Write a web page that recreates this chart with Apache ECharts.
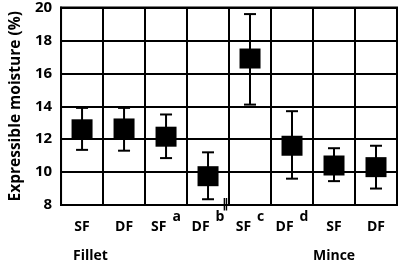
<!DOCTYPE html>
<html><head><meta charset="utf-8">
<script src="https://cdn.jsdelivr.net/npm/echarts@6/dist/echarts.min.js"></script>
<style>html,body{margin:0;padding:0;background:#fff}#c{width:400px;height:262px}</style>
</head><body><div id="c"></div>
<script>
var categories = ['SF', 'DF', 'SF', 'DF', 'SF', 'DF', 'SF', 'DF'];
var superscripts = ['', '', 'a', 'b', 'c', 'd', '', ''];
var means = [12.6, 12.65, 12.15, 9.75, 16.9, 11.6, 10.4, 10.3];
var upper = [13.9, 13.9, 13.5, 11.2, 19.6, 13.7, 11.45, 11.6];
var lower = [11.35, 11.3, 10.85, 8.35, 14.1, 9.6, 9.45, 9.0];
var yTicks = [8, 10, 12, 14, 16, 18, 20];
var groupLabels = ['Fillet', 'Mince'];

var FONT = '"Open Sans", "DejaVu Sans", sans-serif';
var chart = echarts.init(document.getElementById('c'), null, {renderer: 'canvas'});
var errData = means.map(function (m, i) { return [i, lower[i], upper[i]]; });

chart.setOption({
  animation: false,
  backgroundColor: '#fff',
  grid: {left: 53, right: 3, top: 7, bottom: 57, show: true, borderColor: '#000', borderWidth: 2},
  xAxis: {
    type: 'category', data: categories, boundaryGap: true,
    axisLine: {lineStyle: {color: '#000', width: 2}},
    axisTick: {show: false},
    splitLine: {show: true, lineStyle: {color: '#000', width: 2}},
    axisLabel: {
      interval: 0, margin: 5, color: '#000',
      formatter: function (v, i) {
        var s = superscripts[i];
        return s ? '{n|' + v + '}{gap|}{sup|' + s + '}' : '{n|' + v + '}';
      },
      rich: {
        n: {fontSize: 14, fontWeight: 'bold', fontFamily: FONT, color: '#000', lineHeight: 24, verticalAlign: 'bottom'},
        gap: {width: 6, lineHeight: 24},
        sup: {fontSize: 14, fontWeight: 'bold', fontFamily: FONT, color: '#000', lineHeight: 24, verticalAlign: 'top'}
      }
    }
  },
  yAxis: {
    type: 'value', min: yTicks[0], max: yTicks[yTicks.length - 1], interval: 2,
    name: 'Expressible moisture (%)', nameLocation: 'middle', nameGap: 34, nameRotate: 90,
    nameTextStyle: {color: '#000', fontFamily: FONT, fontWeight: 'bold', fontSize: 15.5},
    axisLine: {show: true, lineStyle: {color: '#000', width: 2}},
    axisTick: {show: false},
    splitLine: {show: true, lineStyle: {color: '#000', width: 2}},
    axisLabel: {color: '#000', fontFamily: FONT, fontWeight: 'bold', fontSize: 15, margin: 9}
  },
  series: [
    {
      type: 'custom',
      data: errData,
      z: 3,
      renderItem: function (params, api) {
        var x = api.value(0);
        var lo = api.coord([x, api.value(1)]);
        var hi = api.coord([x, api.value(2)]);
        var hw = 6;
        var st = {stroke: '#000', lineWidth: 2};
        return {type: 'group', children: [
          {type: 'line', shape: {x1: hi[0], y1: hi[1], x2: lo[0], y2: lo[1]}, style: st},
          {type: 'line', shape: {x1: hi[0] - hw, y1: hi[1], x2: hi[0] + hw, y2: hi[1]}, style: st},
          {type: 'line', shape: {x1: lo[0] - hw, y1: lo[1], x2: lo[0] + hw, y2: lo[1]}, style: st}
        ]};
      }
    },
    {
      type: 'scatter',
      data: means.map(function (m, i) { return [i, m]; }),
      symbol: 'rect', symbolSize: [21, 20], z: 4,
      itemStyle: {color: '#000', opacity: 1}
    }
  ],
  graphic: [
    {type: 'text', left: 73, top: 249, style: {text: groupLabels[0], font: 'bold 14px ' + FONT, fill: '#000'}},
    {type: 'text', left: 313, top: 249, style: {text: groupLabels[1], font: 'bold 14px ' + FONT, fill: '#000'}},
    {type: 'text', left: 222, top: 198, style: {text: '\u2016', font: 'bold 13px ' + FONT, fill: '#000'}}
  ]
});
</script></body></html>
